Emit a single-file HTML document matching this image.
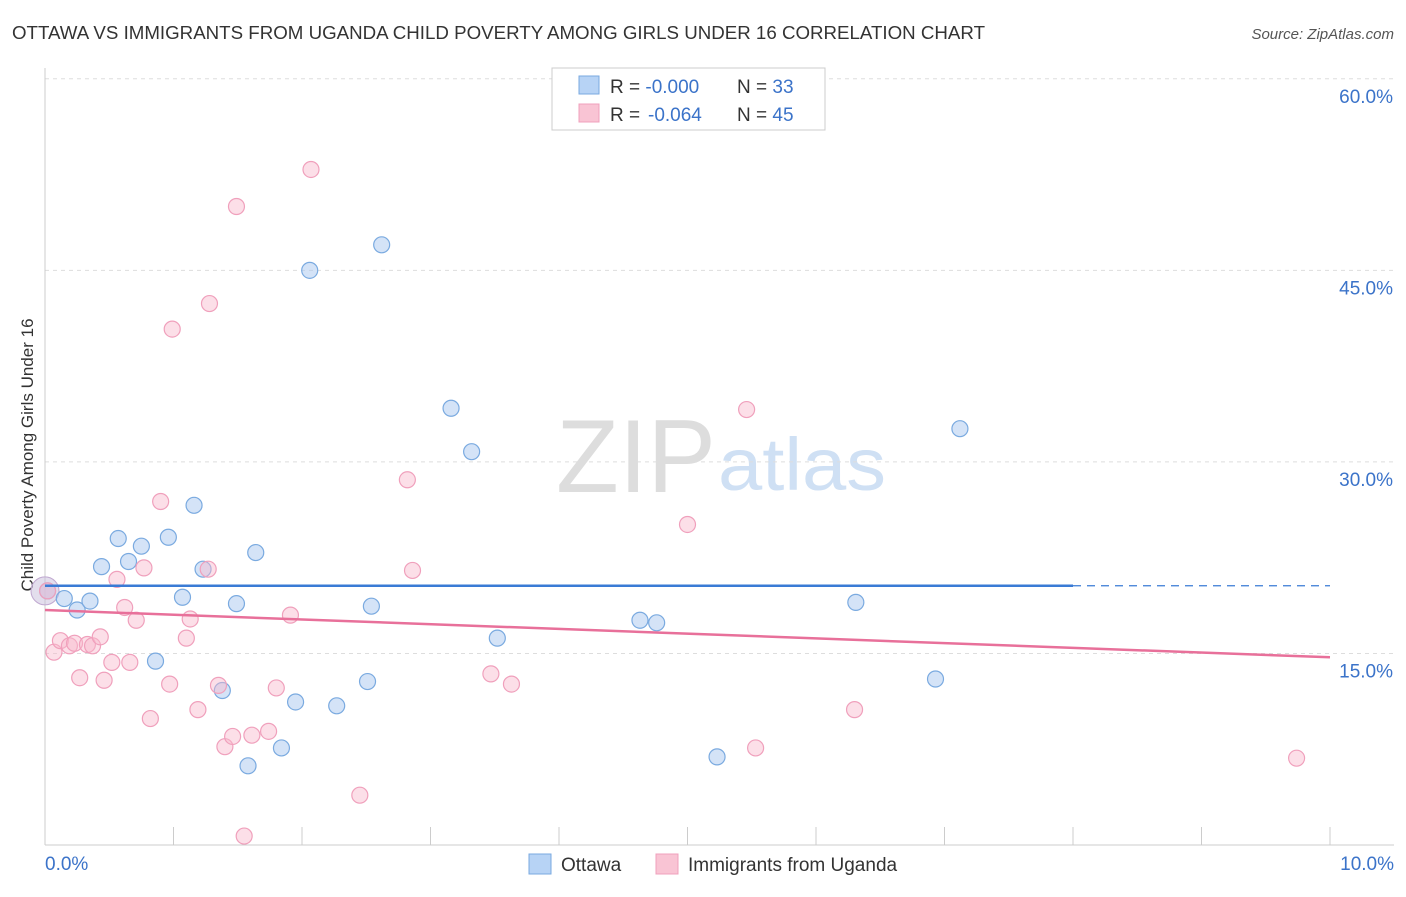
<!DOCTYPE html>
<html><head><meta charset="utf-8"><style>
body{margin:0;background:#fff;font-family:"Liberation Sans",sans-serif;}
svg text{font-family:"Liberation Sans",sans-serif;}
</style></head><body>
<svg id="chart" width="1406" height="892" xmlns="http://www.w3.org/2000/svg">
<text x="12" y="39" font-size="18" fill="#333" textLength="973" lengthAdjust="spacingAndGlyphs">OTTAWA VS IMMIGRANTS FROM UGANDA CHILD POVERTY AMONG GIRLS UNDER 16 CORRELATION CHART</text>
<text x="1394" y="39" font-size="15" fill="#555" text-anchor="end" font-style="italic">Source: ZipAtlas.com</text>
<text x="716" y="492" font-size="104" fill="#ddd" text-anchor="end" font-family="Liberation Serif" textLength="160" lengthAdjust="spacingAndGlyphs">ZIP</text>
<text x="718" y="490" font-size="74" fill="#cfe0f4" textLength="168" lengthAdjust="spacingAndGlyphs">atlas</text>
<text transform="translate(33,455) rotate(-90)" font-size="17" fill="#333" text-anchor="middle">Child Poverty Among Girls Under 16</text>
<g id="grid"></g>
<g id="axes"></g>
<g id="marks"></g>
<g>
<rect x="552" y="68" width="273" height="62" fill="#fff" stroke="#ccc"/>
<rect x="579" y="76" width="20" height="18" fill="#b7d3f5" stroke="#7aaae0"/>
<text x="610" y="93" font-size="19" fill="#333">R = <tspan fill="#3b73c9">-0.000</tspan><tspan x="737">N = </tspan><tspan fill="#3b73c9">33</tspan></text>
<rect x="579" y="104" width="20" height="18" fill="#f9c4d4" stroke="#f0a0bc"/>
<text x="610" y="121" font-size="19" fill="#333">R = <tspan x="648" fill="#3b73c9">-0.064</tspan><tspan x="737">N = </tspan><tspan fill="#3b73c9">45</tspan></text>
</g>
<g>
<rect x="529" y="854" width="22" height="20" fill="#b7d3f5" stroke="#7aaae0"/>
<text x="561" y="871" font-size="19" fill="#333">Ottawa</text>
<rect x="656" y="854" width="22" height="20" fill="#f9c4d4" stroke="#f0a0bc"/>
<text x="688" y="871" font-size="19" fill="#333">Immigrants from Uganda</text>
</g>
</svg>
<script>
const yTicks=[15,30,45,60];
const xTickLabels=["0.0%","10.0%"];
const ottawaX=[0.02,0.15,0.25,0.35,0.44,0.57,0.65,0.75,0.86,0.96,1.07,1.16,1.23,1.38,1.49,1.58,1.64,1.84,1.95,2.06,2.27,2.51,2.54,2.62,3.16,3.32,3.52,4.63,4.76,5.23,6.31,6.93,7.12];
const ottawaY=[19.9,19.3,18.4,19.1,21.8,24.0,22.2,23.4,14.4,24.1,19.4,26.6,21.6,12.1,18.9,6.2,22.9,7.6,11.2,45.0,10.9,12.8,18.7,47.0,34.2,30.8,16.2,17.6,17.4,6.9,19.0,13.0,32.6];
const ugandaX=[0.02,0.07,0.12,0.19,0.23,0.27,0.33,0.37,0.43,0.46,0.52,0.56,0.62,0.66,0.71,0.77,0.82,0.90,0.97,0.99,1.10,1.13,1.19,1.27,1.28,1.35,1.40,1.46,1.49,1.55,1.61,1.74,1.80,1.91,2.07,2.45,2.82,2.86,3.47,3.63,5.00,5.46,5.53,6.30,9.74];
const ugandaY=[19.9,15.1,16.0,15.6,15.8,13.1,15.7,15.6,16.3,12.9,14.3,20.8,18.6,14.3,17.6,21.7,9.9,26.9,12.6,40.4,16.2,17.7,10.6,21.6,42.4,12.5,7.7,8.5,50.0,0.7,8.6,8.9,12.3,18.0,52.9,3.9,28.6,21.5,13.4,12.6,25.1,34.1,7.6,10.6,6.8];
const ottawaTrend=[20.3,20.3];
const ugandaTrend=[18.4,14.7];
const NS="http://www.w3.org/2000/svg";
const X=v=>45+v*128.5, Y=v=>845-v*12.77;
function mk(tag,attrs,parent){const e=document.createElementNS(NS,tag);for(const k in attrs)e.setAttribute(k,attrs[k]);document.getElementById(parent).appendChild(e);return e;}
yTicks.forEach(t=>{
 const l=mk('line',{x1:45,x2:1394,y1:Y(t),y2:Y(t),stroke:'#ddd','stroke-dasharray':'4,4'},'grid');
 
 
 const tx=mk('text',{x:1393,y:Y(t)+24,'font-size':19,fill:'#3b73c9','text-anchor':'end'},'grid');tx.textContent=t.toFixed(1)+'%';
 
 
});
const ax=mk('line',{x1:45,x2:1394,y1:845,y2:845,stroke:'#ccc'},'axes');


const ay=mk('line',{x1:45,x2:45,y1:68,y2:845,stroke:'#ccc'},'axes');


for(let i=0;i<=10;i++){const t=mk('line',{x1:X(i),x2:X(i),y1:827,y2:845,stroke:'#ccc'},'axes');
 
 }
[[0,'start',45],[10,'end',1394]].forEach((d,i)=>{const t=mk('text',{x:d[2],y:870,'font-size':19,fill:'#3b73c9','text-anchor':d[1]},'axes');t.textContent=xTickLabels[i];
 
 });
mk('circle',{cx:X(0),cy:Y(19.9),r:14,fill:'rgba(200,190,220,0.5)',stroke:'#c0a8d0'},'marks');
ottawaX.forEach((x,i)=>{const c=mk('circle',{cx:X(x),cy:Y(ottawaY[i]),r:8,fill:'rgba(170,200,240,0.5)',stroke:'#7aaae0','stroke-width':1.2},'marks');
 
 });
ugandaX.forEach((x,i)=>{const c=mk('circle',{cx:X(x),cy:Y(ugandaY[i]),r:8,fill:'rgba(248,185,205,0.45)',stroke:'#f0a0bc','stroke-width':1.2},'marks');
 
 });
const b1=mk('line',{x1:X(0),x2:X(8),y1:Y(ottawaTrend[0]),y2:Y(ottawaTrend[1]),stroke:'#3a7bd5','stroke-width':2.5},'marks');


const b2=mk('line',{x1:X(8),x2:X(10),y1:Y(ottawaTrend[1]),y2:Y(ottawaTrend[1]),stroke:'#3a7bd5','stroke-width':1.2,'stroke-dasharray':'8,6'},'marks');


const p1=mk('line',{x1:X(0),x2:X(10),y1:Y(ugandaTrend[0]),y2:Y(ugandaTrend[1]),stroke:'#e8709a','stroke-width':2.5},'marks');


</script>
</body></html>
